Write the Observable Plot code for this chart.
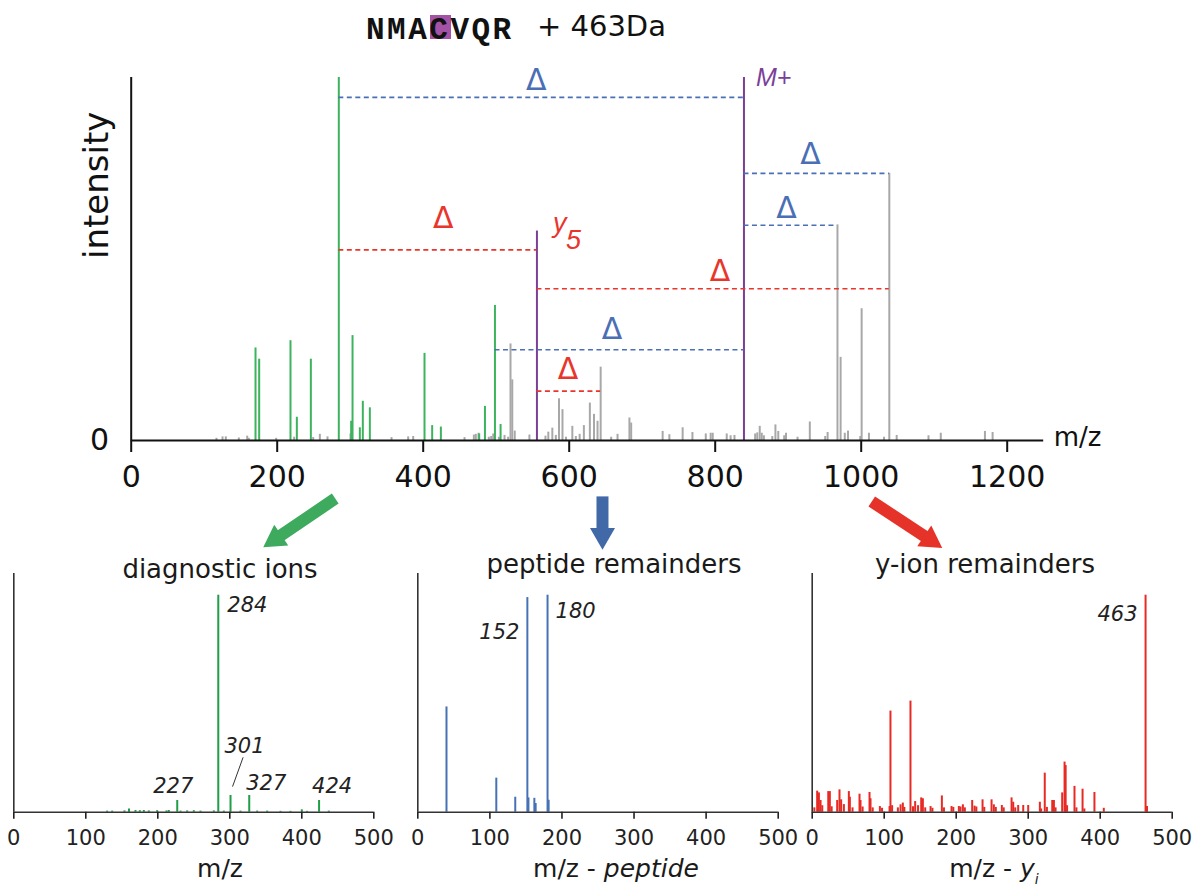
<!DOCTYPE html>
<html><head><meta charset="utf-8">
<script src="https://cdn.jsdelivr.net/npm/d3@7"></script>
<script src="https://cdn.jsdelivr.net/npm/@observablehq/plot@0.6"></script>
<style>
body{margin:0;background:#fff;}
#root{position:relative;width:1194px;height:888px;overflow:hidden;font-family:"DejaVu Sans";color:#1a1a1a;background:#fff;}
.abs{position:absolute;white-space:nowrap;line-height:1;}
.c{position:absolute;white-space:nowrap;line-height:1;transform:translateX(-50%);}
.holder{position:absolute;}
</style></head><body>
<div id="root">
  <div class="abs" style="left:430px;top:15px;width:21px;height:24px;background:#a452a6"></div>
  <div class="abs" style="left:366px;top:14.5px;font-family:'Liberation Mono';font-weight:bold;font-size:31px;letter-spacing:2.5px;color:#111">NMACVQR</div>
  <div class="abs" style="left:537px;top:11.5px;font-size:29px;color:#111">+ 463Da</div>
  <div id="main" class="holder" style="left:0;top:0;width:1194px;height:560px"></div>
  <div id="p1" class="holder" style="left:0;top:545px;width:395px;height:343px"></div>
  <div id="p2" class="holder" style="left:400px;top:545px;width:395px;height:343px"></div>
  <div id="p3" class="holder" style="left:795px;top:545px;width:399px;height:343px"></div>
  <div class="c" style="left:220px;top:556px;font-size:26px">diagnostic ions</div>
  <div class="c" style="left:614px;top:551px;font-size:26px">peptide remainders</div>
  <div class="c" style="left:985px;top:551px;font-size:26px">y-ion remainders</div>
  <div class="c" style="left:220px;top:856px;font-size:25px">m/z</div>
  <div class="c" style="left:616px;top:856px;font-size:25px">m/z - <span style="font-style:italic">peptide</span></div>
  <div class="c" style="left:994px;top:856px;font-size:25px">m/z - <span style="font-style:italic">y</span><span style="font-style:italic;font-size:14px;position:relative;top:7px">i</span></div>
</div>
<script>
// ---------- main spectrum ----------
const xTicks = [0, 200, 400, 600, 800, 1000, 1200];
const greenMz = [170.3,175.3,218.2,226.9,246.1,284.4,301.3,303.2,313.2,317.3,326.9,401.8,412.3,424.2,476.7,484.6,498.3,506.0];
const greenInt = [25.5,22.4,27.5,6.4,22.4,100,5.3,28.9,3.5,10.8,9.0,24.0,4.1,3.7,1.8,9.4,37.2,4.4];
const grayMz = [116.8,125.1,129.6,147.4,158.9,161.1,198.6,223.2,249.3,258.4,268.9,300.4,356.6,379.4,386.3,456.6,469.4,472.1,475.8,489.9,493.1,495.9,503.7,511.4,516.4,519.6,522.0,525.4,545.5,567.5,571.4,576.9,581.7,586.0,590.8,595.6,604.3,609.1,614.3,620.1,628.3,634.0,638.8,643.1,657.5,666.2,682.5,684.9,728.0,737.2,755.4,768.8,787.1,793.8,796.6,815.8,821.1,826.4,854.7,857.6,861.0,863.8,866.7,878.2,882.5,886.4,894.5,897.0,912.8,929.6,950.7,954.0,967.5,971.8,977.5,981.9,998.7,1000.6,1010.6,1031.3,1038.5,1048.6,1092.2,1109.0,1169.5,1180.0];
const grayInt = [0.6,1.0,1.0,0.7,1.2,0.6,0.6,0.9,0.8,1.7,1.0,1.8,0.8,1.0,1.1,0.8,1.5,1.7,2.0,0.9,1.1,1.8,0.9,1.4,0.9,26.6,16.7,2.6,1.5,1.2,2.3,3.4,1.4,11.5,8.5,0.9,3.9,1.1,1.7,4.1,10.3,7.2,5.3,20.2,0.9,1.7,6.2,4.8,2.5,1.6,3.5,2.2,1.8,2.0,2.0,1.8,1.3,1.4,1.8,2.1,3.9,2.0,1.3,1.1,4.3,2.5,1.3,2.0,0.9,5.1,1.1,2.2,59.4,22.9,2.0,2.6,1.1,36.3,2.0,0.9,73.6,1.4,1.3,2.0,2.5,2.2];
const y5Mz = 555.8, y5Int = 57.7;
const precMz = 839.4, precInt = 100;
const segFrom = [284.4, 839.4, 839.4, 498.3, 284.4, 555.8, 555.8];
const segTo   = [839.4, 1038.5, 967.5, 839.4, 555.8, 1038.5, 643.1];
const segInt  = [94.5, 73.6, 59.3, 25.0, 52.5, 41.8, 13.6];
const segKind = ["peptide","peptide","peptide","peptide","y","y","y"];
const deltaMz  = [555.0, 930.5, 897.7, 658.5, 427.4, 806.7, 598.5];
const deltaInt = [99.2, 78.8, 64.0, 30.6, 61.3, 46.6, 19.6];
const deltaKind = ["peptide","peptide","peptide","peptide","y","y","y"];

// ---------- bottom panels ----------
const panelTicks = [0, 100, 200, 300, 400, 500];
const diagMz = [129.6,136.6,153.7,160,169,175,180.6,187.5,199.1,212.1,215.3,227,231.5,240.8,250,259.3,277.8,284,291.7,301,314.8,327,338,351.9,370.4,384.3,400,407.4,424,437.5];
const diagInt = [0.5,0.5,0.6,1.5,0.8,0.7,0.8,0.6,0.7,0.6,0.8,5.4,0.5,0.6,0.7,0.5,0.6,100,0.5,7.7,0.5,7.7,0.5,0.5,0.4,0.4,1.1,0.4,5.4,0.5];
const pepMz = [39.8,108.9,135.2,152,153.5,161.7,163.5,180,181.5];
const pepInt = [48.5,15.7,6.9,98.9,6.6,6.4,4.0,100,5.5];
const yMz = [3,6.9,9.3,11.6,14,22.3,24.5,27,34.7,37.9,40.2,44,50.9,52.3,56,65.7,67.1,70,79.6,81,84,94,97,107.4,108.7,111,119,122.7,125.9,128,136.5,140,143,147,151.4,153.7,157,164.4,167,180.1,183,193.5,196,203.7,206,209.3,212,222.2,225.5,228,236.6,239,249.1,252.3,255,263.4,266,276.9,279.2,282,286.1,293.1,300,316.2,318,323,326,333.4,335.7,338,347.2,350.5,352,354,364.3,367,375.5,378,392,405,463,465];
const yInt = [2.0,9.7,8.9,5.4,3.0,9.5,9.5,2.5,5.4,10.3,5.7,3.5,9.5,6.9,2.0,8.3,5.4,2.4,9.1,6.2,2.0,2.6,1.8,2.6,46.6,3.0,2.0,3.4,4.2,2.2,51.2,2.5,4.9,3.0,6.6,6.2,2.0,2.6,1.8,7.5,2.0,2.6,2.2,2.6,2.4,3.4,2.0,5.4,2.8,2.4,5.7,2.2,5.7,3.4,2.2,3.1,2.0,6.6,4.6,2.0,3.1,3.1,3.1,4.6,1.5,18.0,2.2,5.4,5.4,2.0,8.9,23.1,21.5,3.0,11.9,2.0,10.6,1.5,9.1,1.8,100,2.6];

const BLUE = "#4a6fb5", RED = "#e8362d", PURPLE = "#7b3f98", GREEN = "#3db35e", GRAY = "#a8a8a8";
const baseStyle = {fontFamily: "DejaVu Sans", overflow: "visible", background: "transparent", maxWidth: "none"};
const idx = n => d3.range(n);

// arrow layout (decorative, in main plot coordinates below the axis)
const arrowFromMz = [279.5, 645.6, 1014.5], arrowFromInt = [-16.0, -15.4, -16.8];
const arrowToMz = [197.3, 645.6, 1094.6], arrowToInt = [-27.2, -26.1, -27.4];
const arrowColor = ["#3daa5e", "#4169a8", "#e5332a"], arrowRot = [-124, 180, 124];
const arrowMarks = [];
for (let i = 0; i < 3; i++) {
  arrowMarks.push(Plot.link([i], {x1: j => arrowFromMz[j], y1: j => arrowFromInt[j], x2: j => arrowToMz[j], y2: j => arrowToInt[j], stroke: arrowColor[i], strokeWidth: 12}));
  arrowMarks.push(Plot.dot([i], {x: j => arrowToMz[j], y: j => arrowToInt[j], symbol: "triangle", r: 9.3, fill: arrowColor[i], stroke: "none", rotate: arrowRot[i]}));
}

const main = Plot.plot({
  width: 1194, height: 560,
  marginLeft: 130.7, marginRight: 150.8, marginTop: 77, marginBottom: 120,
  x: {domain: [0, 1250]},
  y: {domain: [0, 100]},
  style: baseStyle,
  marks: [
    Plot.ruleX(grayMz, {x: d => d, y1: 0, y2: (d, i) => grayInt[i], stroke: GRAY, strokeWidth: 2}),
    Plot.ruleX(greenMz, {x: d => d, y1: 0, y2: (d, i) => greenInt[i], stroke: GREEN, strokeWidth: 2}),
    Plot.ruleX([y5Mz, precMz], {x: d => d, y1: 0, y2: (d, i) => [y5Int, precInt][i], stroke: PURPLE, strokeWidth: 2}),
    Plot.ruleY(idx(segInt.length).filter(i => segKind[i] === "peptide"), {y: i => segInt[i], x1: i => segFrom[i], x2: i => segTo[i], stroke: BLUE, strokeWidth: 1.7, strokeDasharray: "5,3.5"}),
    Plot.ruleY(idx(segInt.length).filter(i => segKind[i] === "y"), {y: i => segInt[i], x1: i => segFrom[i], x2: i => segTo[i], stroke: RED, strokeWidth: 1.7, strokeDasharray: "5,3.5"}),
    Plot.text(idx(deltaMz.length).filter(i => deltaKind[i] === "peptide"), {x: i => deltaMz[i], y: i => deltaInt[i], text: () => "Δ", fill: BLUE, fontSize: 30}),
    Plot.text(idx(deltaMz.length).filter(i => deltaKind[i] === "y"), {x: i => deltaMz[i], y: i => deltaInt[i], text: () => "Δ", fill: RED, fontSize: 30}),
    Plot.text([precMz], {x: d => d, y: () => precInt, text: () => "M+", textAnchor: "start", dx: 12, fontSize: 25, fontStyle: "italic", fontFamily: "Liberation Sans", fill: PURPLE}),
    Plot.text([y5Mz], {x: d => d, y: () => y5Int, text: () => "y", textAnchor: "start", lineAnchor: "bottom", dx: 16, dy: 1, fontSize: 27, fontStyle: "italic", fontFamily: "Liberation Sans", fill: RED}),
    Plot.text([y5Mz], {x: d => d, y: () => y5Int, text: () => "5", textAnchor: "start", lineAnchor: "bottom", dx: 29, dy: 18, fontSize: 27, fontStyle: "italic", fontFamily: "Liberation Sans", fill: RED}),
    Plot.ruleY([0], {stroke: "#111", strokeWidth: 2}),
    Plot.ruleX([0], {stroke: "#111", strokeWidth: 2}),
    Plot.axisX({ticks: xTicks, tickSize: 12, tickPadding: 13, fontSize: 30, label: null, color: "#111", strokeWidth: 2, tickFormat: d => `${d}`}),
    Plot.axisY({ticks: [0], tickSize: 0, tickPadding: 22, fontSize: 30, label: null, color: "#111", tickFormat: d => `${d}`}),
    Plot.text(["intensity"], {text: d => d, frameAnchor: "left", dx: -34, rotate: -90, fontSize: 34, fill: "#111"}),
    Plot.text(["m/z"], {text: d => d, frameAnchor: "bottom-right", textAnchor: "start", dx: 10, dy: 5, fontSize: 26, fill: "#111"}),
    ...arrowMarks
  ]
});
document.getElementById("main").append(main);

function lab(mzs, ints, m, o) {
  return Plot.text([m], {x: d => d, y: d => ints[mzs.indexOf(d)], text: d => `${d}`, fontSize: 21, fontStyle: "italic", fill: "#222", ...o});
}

function panel(mzs, ints, color, width, ml, mr, extra) {
  return Plot.plot({
    width, height: 343,
    marginLeft: ml, marginRight: mr, marginTop: 28, marginBottom: 76.3,
    x: {domain: [0, 500]},
    y: {domain: [0, 110], axis: null},
    style: baseStyle,
    marks: [
      Plot.ruleX(mzs, {x: d => d, y1: 0, y2: (d, i) => ints[i], stroke: color, strokeWidth: 2}),
      Plot.ruleY([0], {stroke: "#333", strokeWidth: 1.6}),
      Plot.ruleX([0], {stroke: "#333", strokeWidth: 1.6}),
      Plot.axisX({ticks: panelTicks, tickSize: 7, tickPadding: 11, fontSize: 21, label: null, color: "#222", strokeWidth: 1.6, tickFormat: d => `${d}`}),
      ...extra
    ]
  });
}

const diagAt = m => diagInt[diagMz.indexOf(m)];
document.getElementById("p1").append(panel(diagMz, diagInt, "#1f9d47", 395, 13.3, 21.7, [
  lab(diagMz, diagInt, 284, {textAnchor: "start", lineAnchor: "top", dx: 9, dy: 2}),
  lab(diagMz, diagInt, 227, {lineAnchor: "bottom", dx: -4, dy: -7}),
  lab(diagMz, diagInt, 301, {lineAnchor: "bottom", dx: 14, dy: -42}),
  lab(diagMz, diagInt, 327, {lineAnchor: "bottom", dx: 17, dy: -5}),
  lab(diagMz, diagInt, 424, {lineAnchor: "bottom", dx: 13, dy: -7}),
  Plot.link([301], {x1: d => d + 17.5, y1: d => diagAt(d) + 17.6, x2: d => d + 2.8, y2: d => diagAt(d) + 4.1, stroke: "#333", strokeWidth: 1})
]));
document.getElementById("p2").append(panel(pepMz, pepInt, "#4671b5", 395, 17.3, 17.3, [
  lab(pepMz, pepInt, 180, {textAnchor: "start", lineAnchor: "top", dx: 8, dy: 8}),
  lab(pepMz, pepInt, 152, {textAnchor: "end", lineAnchor: "top", dx: -8, dy: 26})
]));
document.getElementById("p3").append(panel(yMz, yInt, "#e82a24", 399, 16.7, 22.3, [
  lab(yMz, yInt, 463, {textAnchor: "end", lineAnchor: "top", dx: -8, dy: 11})
]));
</script>
</body></html>
